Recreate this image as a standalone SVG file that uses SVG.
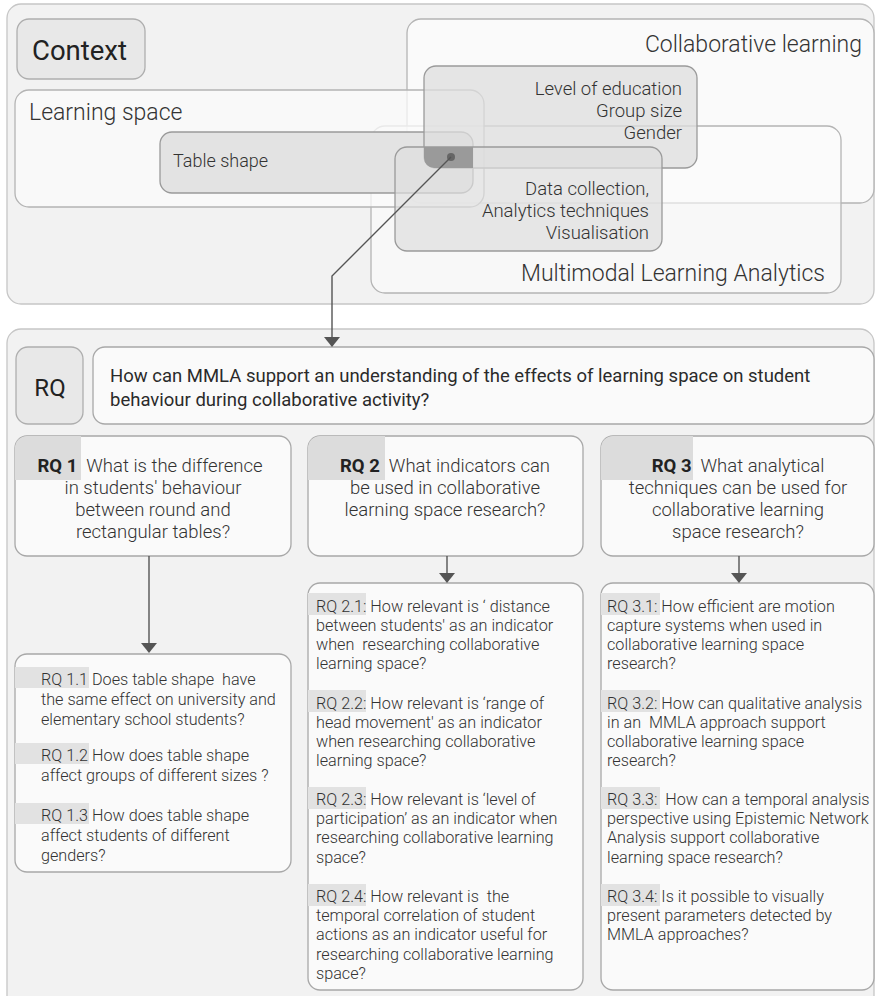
<svg xmlns="http://www.w3.org/2000/svg" width="875" height="996" viewBox="0 0 875 996">
  <defs>
    <style>
      .panel { fill: #f2f2f2; stroke: #c6c6c6; stroke-width: 1.3; }
      .tag { fill: #e8e8e8; stroke: #aeaeae; stroke-width: 1.3; }
      .set { fill: #fbfbfb; fill-opacity: 0.8; stroke: #b4b4b4; stroke-width: 1.3; }
      .sub { fill: #dedede; fill-opacity: 0.75; stroke: #9a9a9a; stroke-width: 1.3; }
      .card { fill: #fafafa; stroke: #a8a8a8; stroke-width: 1.3; }
      .mark { fill: #dcdcdc; }
      .mark2 { fill: #e2e2e2; }
      .wire { fill: none; stroke: #555; stroke-width: 1.4; }
      .head { fill: #555; }
      text { font-family: Roboto, "Liberation Sans", sans-serif; fill: #333; white-space: pre; }
      .light { font-weight: 300; }
      .big { font-size: 23px; }
      .mid { font-size: 18.5px; }
      .hdr { font-size: 18.5px; }
      .small { font-size: 16.2px; }
      .end { text-anchor: end; }
      .ctr { text-anchor: middle; }
      .b { font-weight: 700; fill: #222; }
    </style>
  </defs>

  <!-- Context panel -->
  <g id="context-panel">
    <rect class="panel" x="7" y="4" width="867" height="300" rx="14"/>
  </g>
  <g id="context-label">
    <rect class="tag" x="17" y="19" width="128" height="60" rx="12"/>
    <text x="32" y="60" style="font-size:27.5px;fill:#222">Context</text>
  </g>
  <g id="collaborative-learning">
    <rect class="set" x="407" y="19" width="467" height="184" rx="14"/>
    <text class="light big end" x="862" y="52">Collaborative learning</text>
  </g>
  <g id="mmla">
    <rect class="set" x="371" y="126" width="470" height="167" rx="14" style="fill-opacity:0.6"/>
    <text class="light big end" x="825" y="281">Multimodal Learning Analytics</text>
  </g>
  <g id="learning-space">
    <rect class="set" x="15" y="90" width="469" height="117" rx="14" style="fill-opacity:0.75"/>
    <text class="light big" x="29" y="120">Learning space</text>
  </g>
  <g id="table-shape">
    <rect x="160" y="132" width="313" height="61" rx="12" style="fill:#e3e3e3;stroke:#9a9a9a;stroke-width:1.3"/>
    <text class="light" x="173" y="167" style="font-size:18px">Table shape</text>
  </g>
  <g id="collab-factors">
    <rect class="sub" x="424" y="66" width="273" height="102" rx="12"/>
    <text class="light mid end" x="682" y="95">Level of education</text>
    <text class="light mid end" x="682" y="117">Group size</text>
    <text class="light mid end" x="682" y="139">Gender</text>
  </g>
  <g id="mmla-factors">
    <rect class="sub" x="395" y="147" width="267" height="104" rx="12" style="fill-opacity:0.7"/>
    <text class="light mid end" x="649" y="195">Data collection,</text>
    <text class="light mid end" x="649" y="217">Analytics techniques</text>
    <text class="light mid end" x="649" y="239">Visualisation</text>
  </g>
  <g id="intersection">
    <path d="M424,147 H473 V168 H434 A10,10 0 0 1 424,158 Z" fill="#9a9a9a"/>
    <circle cx="451" cy="157" r="4" fill="#666"/>
  </g>

  <!-- Research question panel -->
  <g id="rq-panel">
    <rect class="panel" x="7" y="329" width="867" height="690" rx="14"/>
  </g>
  <g id="rq-label">
    <rect class="tag" x="16" y="347" width="67" height="77" rx="12"/>
    <text class="ctr" x="50" y="396" style="font-size:24px;fill:#222">RQ</text>
  </g>
  <g id="rq-main">
    <rect class="card" x="93" y="347" width="781" height="77" rx="12"/>
    <text x="110" y="382" style="font-size:18.5px;fill:#2a2a2a">How can MMLA support an understanding of the effects of learning space on student</text>
    <text x="110" y="406" style="font-size:18.5px;fill:#2a2a2a">behaviour during collaborative activity?</text>
  </g>

  <g id="rq1">
    <rect class="card" x="15" y="436" width="276" height="120" rx="12"/>
    <path class="mark" d="M15,448 A12,12 0 0 1 27,436 H81 V480 H15 Z"/>
    <text class="light hdr ctr" x="150" y="472"><tspan class="b">RQ 1</tspan>  What is the difference</text>
    <text class="light hdr ctr" x="153" y="494">in students' behaviour</text>
    <text class="light hdr ctr" x="153" y="516">between round and</text>
    <text class="light hdr ctr" x="153" y="538">rectangular tables?</text>
  </g>
  <g id="rq2">
    <rect class="card" x="308" y="436" width="275" height="120" rx="12"/>
    <path class="mark" d="M308,448 A12,12 0 0 1 320,436 H385 V480 H308 Z"/>
    <text class="light hdr ctr" x="445" y="472"><tspan class="b">RQ 2</tspan>  What indicators can</text>
    <text class="light hdr ctr" x="445" y="494">be used in collaborative</text>
    <text class="light hdr ctr" x="445" y="516">learning space research?</text>
  </g>
  <g id="rq3">
    <rect class="card" x="601" y="436" width="273" height="120" rx="12"/>
    <path class="mark" d="M601,448 A12,12 0 0 1 613,436 H693 V480 H601 Z"/>
    <text class="light hdr ctr" x="738" y="472"><tspan class="b">RQ 3</tspan>  What analytical</text>
    <text class="light hdr ctr" x="738" y="494">techniques can be used for</text>
    <text class="light hdr ctr" x="738" y="516">collaborative learning</text>
    <text class="light hdr ctr" x="738" y="538">space research?</text>
  </g>

  <g id="rq1-sub">
    <rect class="card" x="15" y="654" width="276" height="218" rx="12"/>
    <rect class="mark2" x="15" y="667" width="74" height="21"/>
    <rect class="mark2" x="15" y="743" width="74" height="21"/>
    <rect class="mark2" x="15" y="803" width="74" height="21"/>
    <text class="light small" x="41" y="685">RQ 1.1 Does table shape  have</text>
    <text class="light small" x="41" y="705">the same effect on university and</text>
    <text class="light small" x="41" y="725">elementary school students?</text>
    <text class="light small" x="41" y="761">RQ 1.2 How does table shape</text>
    <text class="light small" x="41" y="781">affect groups of different sizes ?</text>
    <text class="light small" x="41" y="821">RQ 1.3 How does table shape</text>
    <text class="light small" x="41" y="841">affect students of different</text>
    <text class="light small" x="41" y="861">genders?</text>
  </g>

  <g id="rq2-sub">
    <rect class="card" x="308" y="583" width="275" height="407" rx="12"/>
    <rect class="mark2" x="308" y="593" width="58" height="22"/>
    <rect class="mark2" x="308" y="690" width="58" height="22"/>
    <rect class="mark2" x="308" y="787" width="58" height="22"/>
    <rect class="mark2" x="308" y="884" width="58" height="22"/>
    <text class="light small" x="316" y="612">RQ 2.1: How relevant is ‘ distance</text>
    <text class="light small" x="316" y="631">between students' as an indicator</text>
    <text class="light small" x="316" y="650">when  researching collaborative</text>
    <text class="light small" x="316" y="669">learning space?</text>
    <text class="light small" x="316" y="709">RQ 2.2: How relevant is ‘range of</text>
    <text class="light small" x="316" y="728">head movement' as an indicator</text>
    <text class="light small" x="316" y="747">when researching collaborative</text>
    <text class="light small" x="316" y="766">learning space?</text>
    <text class="light small" x="316" y="805">RQ 2.3: How relevant is ‘level of</text>
    <text class="light small" x="316" y="824">participation’ as an indicator when</text>
    <text class="light small" x="316" y="843">researching collaborative learning</text>
    <text class="light small" x="316" y="863">space?</text>
    <text class="light small" x="316" y="902">RQ 2.4: How relevant is  the</text>
    <text class="light small" x="316" y="921">temporal correlation of student</text>
    <text class="light small" x="316" y="940">actions as an indicator useful for</text>
    <text class="light small" x="316" y="960">researching collaborative learning</text>
    <text class="light small" x="316" y="979">space?</text>
  </g>

  <g id="rq3-sub">
    <rect class="card" x="601" y="583" width="273" height="407" rx="12"/>
    <rect class="mark2" x="601" y="593" width="59" height="22"/>
    <rect class="mark2" x="601" y="690" width="59" height="22"/>
    <rect class="mark2" x="601" y="787" width="59" height="22"/>
    <rect class="mark2" x="601" y="884" width="59" height="22"/>
    <text class="light small" x="607" y="612">RQ 3.1: How efficient are motion</text>
    <text class="light small" x="607" y="631">capture systems when used in</text>
    <text class="light small" x="607" y="650">collaborative learning space</text>
    <text class="light small" x="607" y="669">research?</text>
    <text class="light small" x="607" y="709">RQ 3.2: How can qualitative analysis</text>
    <text class="light small" x="607" y="728">in an  MMLA approach support</text>
    <text class="light small" x="607" y="747">collaborative learning space</text>
    <text class="light small" x="607" y="766">research?</text>
    <text class="light small" x="607" y="805">RQ 3.3:  How can a temporal analysis</text>
    <text class="light small" x="607" y="824">perspective using Epistemic Network</text>
    <text class="light small" x="607" y="843">Analysis support collaborative</text>
    <text class="light small" x="607" y="863">learning space research?</text>
    <text class="light small" x="607" y="902">RQ 3.4: Is it possible to visually</text>
    <text class="light small" x="607" y="921">present parameters detected by</text>
    <text class="light small" x="607" y="940">MMLA approaches?</text>
  </g>

  <!-- Connectors -->
  <g id="connectors">
    <polyline class="wire" points="451,157 332,276 332,338"/>
    <polygon class="head" points="324,337 340,337 332,347"/>
    <line class="wire" x1="149" y1="556" x2="149" y2="644"/>
    <polygon class="head" points="141,643 157,643 149,653"/>
    <line class="wire" x1="447" y1="556" x2="447" y2="574"/>
    <polygon class="head" points="439,573 455,573 447,583"/>
    <line class="wire" x1="739" y1="556" x2="739" y2="574"/>
    <polygon class="head" points="731,573 747,573 739,583"/>
  </g>
</svg>
